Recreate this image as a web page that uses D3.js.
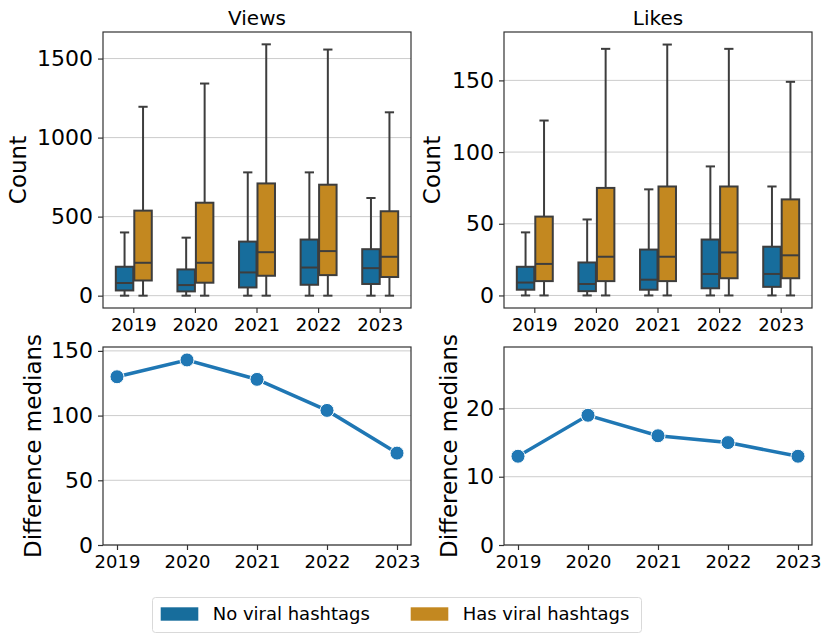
<!DOCTYPE html>
<html>
<head>
<meta charset="utf-8">
<script src="https://cdn.jsdelivr.net/npm/d3@7"></script>
<style>
  body { margin: 0; background: #fff; }
  svg { font-family: "DejaVu Sans", sans-serif; }
</style>
</head>
<body>
<div id="chart"></div>
<script>
// Data: each box is [whisker low, q1, median, q3, whisker high]
const years = ['2019', '2020', '2021', '2022', '2023'];
const groups = ['No viral hashtags', 'Has viral hashtags'];

const viewsNoViral = [
  [0, 33, 80, 183, 400],
  [0, 27, 67, 166, 367],
  [0, 52, 147, 342, 780],
  [0, 69, 178, 355, 780],
  [0, 74, 174, 294, 618]
];
const viewsViral = [
  [0, 96, 208, 538, 1195],
  [0, 82, 208, 588, 1342],
  [0, 126, 275, 710, 1590],
  [0, 130, 282, 702, 1557],
  [0, 118, 246, 534, 1160]
];
const likesNoViral = [
  [0, 4, 9, 20, 44],
  [0, 3, 8, 23, 53],
  [0, 4, 11, 32, 74],
  [0, 5, 15, 39, 90],
  [0, 6, 15, 34, 76]
];
const likesViral = [
  [0, 10, 22, 55, 122],
  [0, 10, 27, 75, 172],
  [0, 10, 27, 76, 175],
  [0, 12, 30, 76, 172],
  [0, 12, 28, 67, 149]
];
const viewsDiff = [130, 143, 128, 104, 71];
const likesDiff = [13, 19, 16, 15, 13];

const viewsTicks = [0, 500, 1000, 1500];
const likesTicks = [0, 50, 100, 150];
const viewsDiffTicks = [0, 50, 100, 150];
const likesDiffTicks = [0, 10, 20];

const boxColors = ['#176d9c', '#c38820'];
const lineColor = '#1f77b4';
const edgeColor = '#3d3d3d';
const gridColor = '#cccccc';

const width = 831;
const height = 641;

const svg = d3.select('#chart').append('svg')
  .attr('width', width)
  .attr('height', height);

svg.append('rect').attr('width', width).attr('height', height).attr('fill', '#fff');

// Panel frames
const panels = {
  views: { x0: 103, x1: 411, y0: 32, y1: 308 },
  likes: { x0: 504, x1: 812, y0: 32, y1: 308 },
  viewsDiff: { x0: 103, x1: 411, y0: 347, y1: 545 },
  likesDiff: { x0: 504, x1: 812, y0: 347, y1: 545 }
};

function styleAxis(g, size) {
  g.selectAll('.domain').remove();
  g.selectAll('.tick line').attr('stroke', '#333').attr('stroke-width', 1.2);
  g.selectAll('.tick text')
    .attr('fill', '#000')
    .style('font-size', size + 'px')
    .style('font-family', '"DejaVu Sans", sans-serif');
}

function drawGrid(p, y, ticks) {
  svg.append('g').selectAll('line')
    .data(ticks)
    .enter().append('line')
    .attr('x1', p.x0).attr('x2', p.x1)
    .attr('y1', d => y(d)).attr('y2', d => y(d))
    .attr('stroke', gridColor)
    .attr('stroke-width', 1);
}

function drawFrame(p) {
  svg.append('rect')
    .attr('x', p.x0).attr('y', p.y0)
    .attr('width', p.x1 - p.x0).attr('height', p.y1 - p.y0)
    .attr('fill', 'none')
    .attr('stroke', '#333')
    .attr('stroke-width', 1.2);
}

function drawYLabel(text, x, p) {
  svg.append('text')
    .attr('transform', `translate(${x},${(p.y0 + p.y1) / 2}) rotate(-90)`)
    .attr('text-anchor', 'middle')
    .attr('dominant-baseline', 'central')
    .style('font-size', '23px')
    .text(text);
}

// Box panel
function drawBoxPanel(p, noViral, viral, domain, ticks, title, labelX) {
  const x = d3.scaleBand().domain(years).range([p.x0, p.x1]).padding(0);
  const y = d3.scaleLinear().domain(domain).range([p.y1, p.y0]);

  drawGrid(p, y, ticks);

  const bw = x.bandwidth() * 0.3;
  const series = [noViral, viral];

  series.forEach((data, si) => {
    const g = svg.append('g');
    const cells = g.selectAll('g.box')
      .data(data.map((d, i) => ({ year: years[i], s: d })))
      .enter().append('g')
      .classed('box', true)
      .attr('transform', d => {
        const cx = x(d.year) + x.bandwidth() / 2 + (si === 0 ? -bw / 2 : bw / 2);
        return `translate(${cx},0)`;
      });

    // whiskers
    cells.append('line')
      .attr('x1', 0).attr('x2', 0)
      .attr('y1', d => y(d.s[3])).attr('y2', d => y(d.s[4]))
      .attr('stroke', edgeColor).attr('stroke-width', 2);
    cells.append('line')
      .attr('x1', 0).attr('x2', 0)
      .attr('y1', d => y(d.s[0])).attr('y2', d => y(d.s[1]))
      .attr('stroke', edgeColor).attr('stroke-width', 2);
    // caps
    [0, 4].forEach(k => {
      cells.append('line')
        .attr('x1', -bw / 4).attr('x2', bw / 4)
        .attr('y1', d => y(d.s[k])).attr('y2', d => y(d.s[k]))
        .attr('stroke', edgeColor).attr('stroke-width', 2);
    });
    // box
    cells.append('rect')
      .attr('x', -bw / 2 + 0.5)
      .attr('width', bw - 1)
      .attr('y', d => y(d.s[3]))
      .attr('height', d => y(d.s[1]) - y(d.s[3]))
      .attr('fill', boxColors[si])
      .attr('stroke', edgeColor)
      .attr('stroke-width', 2);
    // median
    cells.append('line')
      .attr('x1', -bw / 2 + 0.5).attr('x2', bw / 2 - 0.5)
      .attr('y1', d => y(d.s[2])).attr('y2', d => y(d.s[2]))
      .attr('stroke', edgeColor).attr('stroke-width', 2);
  });

  drawFrame(p);

  svg.append('g')
    .attr('transform', `translate(0,${p.y1})`)
    .call(d3.axisBottom(x).tickSize(5).tickPadding(5))
    .call(g => styleAxis(g, 18));

  svg.append('g')
    .attr('transform', `translate(${p.x0},0)`)
    .call(d3.axisLeft(y).tickValues(ticks).tickFormat(d3.format('d')).tickSize(5).tickPadding(5))
    .call(g => styleAxis(g, 22));

  svg.append('text')
    .attr('x', (p.x0 + p.x1) / 2)
    .attr('y', 25)
    .attr('text-anchor', 'middle')
    .style('font-size', '20px')
    .text(title);

  drawYLabel('Count', labelX, p);
}

// Line panel
function drawLinePanel(p, values, domain, ticks, labelX) {
  const x = d3.scaleLinear().domain([-0.2, years.length - 0.8]).range([p.x0, p.x1]);
  const y = d3.scaleLinear().domain(domain).range([p.y1, p.y0]);

  drawGrid(p, y, ticks);

  const line = d3.line()
    .x((d, i) => x(i))
    .y(d => y(d));

  svg.append('path')
    .datum(values)
    .attr('d', line)
    .attr('fill', 'none')
    .attr('stroke', lineColor)
    .attr('stroke-width', 3.5);

  svg.append('g').selectAll('circle')
    .data(values)
    .enter().append('circle')
    .attr('cx', (d, i) => x(i))
    .attr('cy', d => y(d))
    .attr('r', 7)
    .attr('fill', lineColor)
    .attr('stroke', '#fff')
    .attr('stroke-width', 1);

  drawFrame(p);

  svg.append('g')
    .attr('transform', `translate(0,${p.y1})`)
    .call(d3.axisBottom(x).tickValues(d3.range(years.length)).tickFormat(i => years[i]).tickSize(5).tickPadding(5))
    .call(g => styleAxis(g, 18));

  svg.append('g')
    .attr('transform', `translate(${p.x0},0)`)
    .call(d3.axisLeft(y).tickValues(ticks).tickFormat(d3.format('d')).tickSize(5).tickPadding(5))
    .call(g => styleAxis(g, 22));

  drawYLabel('Difference medians', labelX, p);
}

drawBoxPanel(panels.views, viewsNoViral, viewsViral, [-78, 1668], viewsTicks, 'Views', 18);
drawBoxPanel(panels.likes, likesNoViral, likesViral, [-8.75, 183.75], likesTicks, 'Likes', 432);
drawLinePanel(panels.viewsDiff, viewsDiff, [0, 153], viewsDiffTicks, 33);
drawLinePanel(panels.likesDiff, likesDiff, [0, 29], likesDiffTicks, 449);

// Legend
const legend = svg.append('g');
legend.append('rect')
  .attr('x', 152.5).attr('y', 597.5)
  .attr('width', 489).attr('height', 35)
  .attr('rx', 3)
  .attr('fill', '#fff')
  .attr('stroke', '#d9d9d9')
  .attr('stroke-width', 1);

const legendX = [160.7, 410.7];
groups.forEach((name, i) => {
  legend.append('rect')
    .attr('x', legendX[i]).attr('y', 607.3)
    .attr('width', 37.6).attr('height', 13.4)
    .attr('fill', boxColors[i]);
  legend.append('text')
    .attr('x', legendX[i] + 52)
    .attr('y', 620)
    .style('font-size', '18px')
    .text(name);
});
</script>
</body>
</html>
